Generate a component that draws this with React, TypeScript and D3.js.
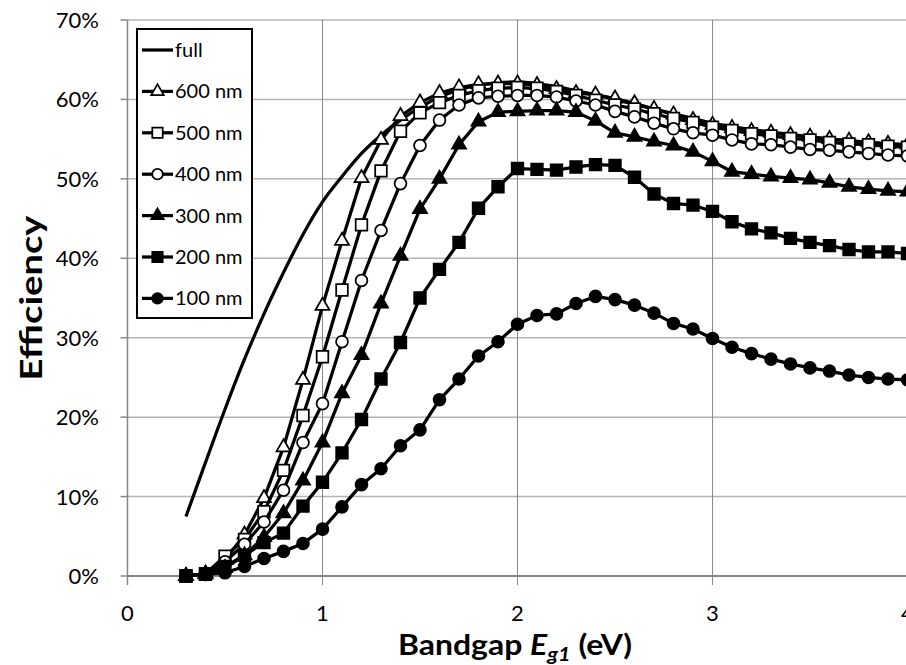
import React from "react";
import * as d3 from "d3";

// bandgap (eV) sampled every 0.1
const bandgap = [
  0.3, 0.4, 0.5, 0.6, 0.7, 0.8, 0.9, 1.0, 1.1, 1.2, 1.3, 1.4, 1.5, 1.6, 1.7, 1.8, 1.9, 2.0, 2.1,
  2.2, 2.3, 2.4, 2.5, 2.6, 2.7, 2.8, 2.9, 3.0, 3.1, 3.2, 3.3, 3.4, 3.5, 3.6, 3.7, 3.8, 3.9, 4.0,
];

// efficiency in %
const effFull = [
  7.5, 14.3, 21.0, 27.3, 33.0, 38.2, 43.0, 47.1, 50.3, 53.2, 55.5, 57.4, 59.0, 60.3, 61.2, 61.8,
  62.1, 62.2, 62.0, 61.6, 61.1, 60.6, 60.0, 59.4, 58.8, 58.2, 57.6, 57.0, 56.6, 56.2, 55.9, 55.6,
  55.3, 55.0, 54.8, 54.6, 54.4, 54.3,
];
const eff600 = [
  0, 0.3, 2.0, 5.2, 9.8, 16.2, 24.7, 34.0, 42.2, 50.1, 54.9, 57.9, 59.6, 60.8, 61.5, 61.9, 62.0,
  62.0, 61.8, 61.3, 60.8, 60.6, 60.1, 59.5, 58.8, 58.1, 57.4, 56.8, 56.4, 56.0, 55.8, 55.5, 55.3,
  55.0, 54.8, 54.6, 54.4, 54.3,
];
const eff500 = [
  0, 0.3, 2.5, 4.6, 8.1, 13.3, 20.2, 27.6, 36.0, 44.2, 51.0, 56.0, 58.3, 59.6, 60.5, 61.1, 61.4,
  61.5, 61.4, 61.0, 60.5, 59.9, 59.3, 58.8, 58.2, 57.6, 57.1, 56.5, 56.1, 55.7, 55.4, 55.1, 54.9,
  54.6, 54.4, 54.3, 54.1, 54.0,
];
const eff400 = [
  0, 0.2, 1.8, 4.0, 6.8, 10.8, 16.8, 21.7, 29.5, 37.2, 43.5, 49.4, 54.2, 57.4, 59.3, 60.2, 60.4,
  60.5, 60.5, 60.3, 59.8, 59.3, 58.5, 57.8, 57.0, 56.3, 55.8, 55.5, 54.9, 54.4, 54.3, 54.0, 53.7,
  53.6, 53.4, 53.2, 53.0, 52.9,
];
const eff300 = [
  0, 0.2, 1.0, 2.6, 4.9, 7.9, 12.0, 16.8, 23.0, 27.8, 34.3, 40.3, 46.2, 50.0, 54.3, 57.2, 58.4,
  58.5, 58.6, 58.6, 58.4, 57.3, 55.8, 55.3, 54.7, 54.2, 53.4, 52.2, 50.9, 50.6, 50.3, 50.1, 49.9,
  49.5, 49.0, 48.7, 48.5, 48.4,
];
const eff200 = [
  0, 0.2, 1.2, 2.6, 4.2, 5.4, 8.8, 11.8, 15.5, 19.7, 24.8, 29.4, 35.0, 38.6, 42.0, 46.3, 49.0,
  51.3, 51.2, 51.1, 51.5, 51.8, 51.7, 50.2, 48.1, 46.9, 46.7, 45.9, 44.6, 43.7, 43.2, 42.5, 42.0,
  41.6, 41.1, 40.8, 40.8, 40.6,
];
const eff100 = [
  0, 0.2, 0.4, 1.2, 2.2, 3.1, 4.1, 5.9, 8.7, 11.5, 13.5, 16.4, 18.4, 22.2, 24.8, 27.7, 29.5, 31.7,
  32.8, 33.0, 34.3, 35.2, 34.8, 34.1, 33.1, 31.8, 31.1, 29.9, 28.8, 28.0, 27.3, 26.7, 26.2, 25.8,
  25.3, 25.0, 24.8, 24.7,
];

const seriesNames = ["full", "600 nm", "500 nm", "400 nm", "300 nm", "200 nm", "100 nm"];
const seriesValues = [effFull, eff600, eff500, eff400, eff300, eff200, eff100];
const seriesMarkers = ["none", "triangle", "square", "circle", "triangle", "square", "circle"];
const seriesFilled = [false, false, false, false, true, true, true];

const xTicks = [0, 1, 2, 3, 4];
const yTicks = [0, 10, 20, 30, 40, 50, 60, 70];

const W = 906;
const H = 665;
const FONT = "Lato, 'Open Sans', sans-serif";

const symbolFor = (m: string, small = false) => {
  const k = small ? 0.8 : 1;
  if (m === "triangle") return d3.symbol(d3.symbolTriangle, 85 * k)();
  if (m === "square") return d3.symbol(d3.symbolSquare, 135 * k)();
  return d3.symbol(d3.symbolCircle, 110 * k)();
};

function Marker(props: { type: string; filled: boolean; x: number; y: number; small?: boolean }) {
  const { type, filled, x, y, small } = props;
  if (type === "none") return null;
  return (
    <path
      d={symbolFor(type, small) || ""}
      transform={`translate(${x},${y})`}
      fill={filled ? "#000" : "#fff"}
      stroke="#000"
      strokeWidth={1.75}
    />
  );
}

export default function App() {
  const x = d3.scaleLinear().domain([0, 4]).range([127.5, 907.5]);
  const y = d3.scaleLinear().domain([0, 70]).range([576, 20]);

  const line = d3
    .line<number>()
    .x((_, i) => x(bandgap[i]))
    .y((d) => y(d));

  const legendX = 137;
  const legendY = 29;
  const legendStep = 41.4;

  return (
    <svg
      width={W}
      height={H}
      style={{ position: "absolute", left: 0, top: 0, background: "#fff" }}
      fontFamily={FONT}
    >
      {/* gridlines */}
      {yTicks.slice(1).map((t) => (
        <line key={"gy" + t} x1={x(0)} x2={W} y1={y(t)} y2={y(t)} stroke="#b4b4b4" strokeWidth={1.5} />
      ))}
      {xTicks.slice(1).map((t) => (
        <line key={"gx" + t} x1={x(t)} x2={x(t)} y1={y(70)} y2={y(0) + 9} stroke="#8a8a8a" strokeWidth={1} />
      ))}

      {/* axes */}
      <line x1={x(0)} x2={x(0)} y1={y(70)} y2={y(0) + 9} stroke="#868686" strokeWidth={1.5} />
      <line x1={x(0)} x2={W} y1={y(0)} y2={y(0)} stroke="#868686" strokeWidth={2} />
      {yTicks.map((t) => (
        <g key={"ty" + t}>
          <line x1={x(0) - 7} x2={x(0)} y1={y(t)} y2={y(t)} stroke="#868686" strokeWidth={1.5} />
          <text x={99} y={y(t) + 8} textAnchor="end" fontSize={22} fill="#000">
            {t}%
          </text>
        </g>
      ))}
      {xTicks.map((t) => (
        <text key={"tx" + t} x={x(t)} y={621} textAnchor="middle" fontSize={22} fill="#000">
          {t}
        </text>
      ))}

      {/* series */}
      {seriesValues.map((vals, si) => (
        <g key={"s" + si}>
          <path
            d={(seriesMarkers[si] === "none" ? line.curve(d3.curveMonotoneX) : line.curve(d3.curveLinear))(vals) || ""}
            fill="none"
            stroke="#000"
            strokeWidth={3.25}
            strokeLinejoin="round"
          />
          {vals.map((v, i) => (
            <Marker key={i} type={seriesMarkers[si]} filled={seriesFilled[si]} x={x(bandgap[i])} y={y(v)} />
          ))}
        </g>
      ))}

      {/* legend */}
      <rect x={legendX} y={legendY} width={115} height={289} fill="#fff" stroke="#000" strokeWidth={2} />
      {seriesNames.map((name, i) => {
        const cy = legendY + 21 + i * legendStep;
        return (
          <g key={"lg" + i}>
            <line x1={142} x2={173} y1={cy} y2={cy} stroke="#000" strokeWidth={3.25} />
            <Marker type={seriesMarkers[i]} filled={seriesFilled[i]} x={157.5} y={cy} small />
            <text x={175} y={cy + 7} fontSize={20} fill="#000">
              {name}
            </text>
          </g>
        );
      })}

      {/* axis titles */}
      <text
        x={398}
        y={655}
        fontSize={28}
        fontWeight="bold"
        fill="#000"
        textLength={234}
        lengthAdjust="spacingAndGlyphs"
      >
        Bandgap <tspan fontStyle="italic">E</tspan>
        <tspan fontStyle="italic" fontSize={19} dy={6}>
          g1
        </tspan>
        <tspan dy={-6}> (eV)</tspan>
      </text>
      <text
        transform={`translate(42,${(y(0) + y(70)) / 2}) rotate(-90)`}
        textAnchor="middle"
        fontSize={30}
        fontWeight="bold"
        fill="#000"
        textLength={165}
        lengthAdjust="spacingAndGlyphs"
      >
        Efficiency
      </text>
    </svg>
  );
}
